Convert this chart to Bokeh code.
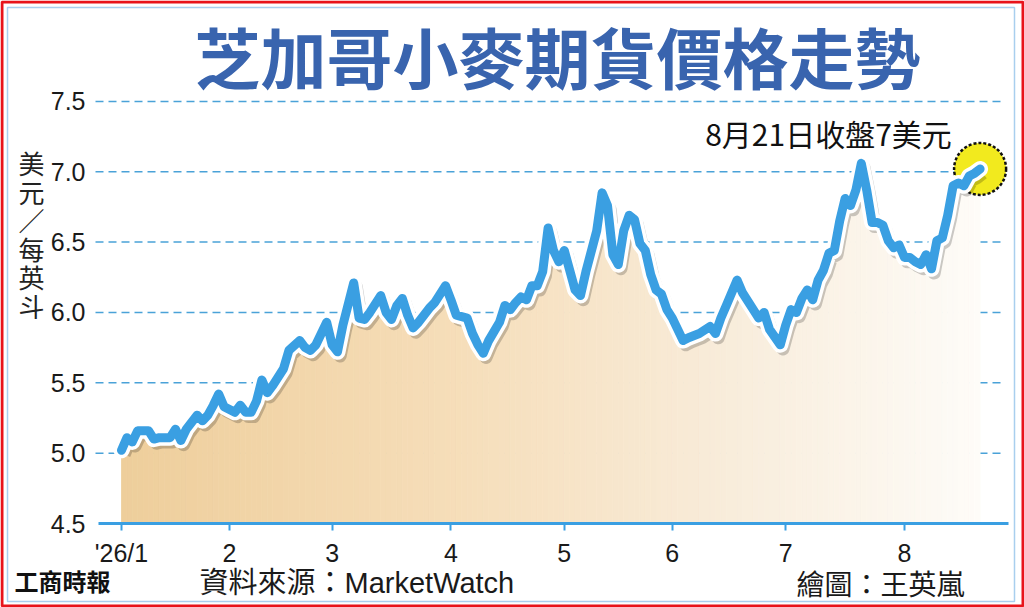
import numpy as np
from bokeh.plotting import figure
from bokeh.models import Range1d, FixedTicker, Label, NumeralTickFormatter
from bokeh.embed import file_html
from bokeh.resources import INLINE

# ---------------- data ----------------
title_text = "芝加哥小麥期貨價格走勢"
unit_chars = list("美元／每英斗")
annotation_text = "8月21日收盤7美元"
source_text = "資料來源：MarketWatch"
credit_text = "繪圖：王英嵐"
brand_text = "工商時報"

# trading-day number since the first session of 2026
trade_day = [0, 1, 2, 3, 4, 5, 6, 7, 8, 9, 10, 11, 12, 14, 15, 16, 17, 18, 19, 20,
             21, 22, 23, 24, 25, 26, 27, 28, 30, 31, 33, 34, 35, 36, 38, 39, 40, 41, 43, 44,
             45, 46, 48, 49, 50, 51, 52, 53, 54, 55, 56, 57, 58, 60, 61, 62, 63, 64, 65, 66,
             67, 68, 70, 71, 72, 73, 74, 75, 76, 77, 78, 79, 80, 81, 82, 83, 84, 85, 86, 88,
             89, 90, 91, 92, 93, 94, 95, 96, 97, 98, 99, 100, 101, 102, 103, 104, 105, 107, 109, 110,
             111, 112, 114, 115, 117, 118, 119, 120, 122, 123, 124, 125, 126, 127, 128, 129, 130, 131, 132, 133,
             134, 135, 136, 137, 138, 139, 140, 141, 142, 143, 144, 145, 146, 147, 148, 149, 150, 151, 152, 153,
             154, 155, 156, 157, 158, 159]
price = [5.02, 5.11, 5.08, 5.16, 5.16, 5.16, 5.10, 5.11, 5.11, 5.11, 5.17, 5.09, 5.17, 5.27, 5.23, 5.27, 5.34, 5.42, 5.33, 5.31,
         5.29, 5.34, 5.29, 5.29, 5.37, 5.52, 5.43, 5.48, 5.60, 5.73, 5.80, 5.75, 5.73, 5.77, 5.93, 5.77, 5.72, 5.91, 6.21, 5.96,
         5.95, 6.00, 6.12, 6.00, 5.95, 6.05, 6.10, 5.98, 5.89, 5.93, 5.98, 6.03, 6.07, 6.19, 6.09, 5.98, 5.97, 5.96, 5.85, 5.77,
         5.71, 5.80, 5.93, 6.05, 6.02, 6.07, 6.11, 6.09, 6.19, 6.19, 6.29, 6.60, 6.44, 6.36, 6.44, 6.30, 6.16, 6.12, 6.29, 6.58,
         6.85, 6.76, 6.41, 6.34, 6.58, 6.69, 6.66, 6.49, 6.44, 6.27, 6.16, 6.13, 6.02, 5.96, 5.88, 5.80, 5.82, 5.85, 5.90, 5.85,
         5.96, 6.05, 6.23, 6.14, 6.02, 5.96, 6.00, 5.88, 5.77, 5.91, 6.02, 6.00, 6.10, 6.16, 6.09, 6.23, 6.30, 6.42, 6.44, 6.65,
         6.81, 6.76, 6.87, 7.06, 6.87, 6.64, 6.64, 6.62, 6.51, 6.46, 6.48, 6.39, 6.39, 6.36, 6.34, 6.41, 6.31, 6.51, 6.53, 6.69,
         6.90, 6.92, 6.90, 6.97, 6.99, 7.02]

month_ticks = [0, 20, 39, 61, 82, 102, 123, 145]
month_labels = ["'26/1", "2", "3", "4", "5", "6", "7", "8"]
y_ticks = [4.5, 5.0, 5.5, 6.0, 6.5, 7.0, 7.5]
grid_ticks = [5.0, 5.5, 6.0, 6.5, 7.0, 7.5]

# ---------------- layout (pixel helpers) ----------------
W, H = 1024, 607
PX_DAY = 5.4
PX_UNIT = 140.7
X0_PX = 121.0   # pixel of trading day 0
Y0_PX = 523.0   # pixel of 4.5

def dx(X):
    return (X - X0_PX) / PX_DAY

def dy(Y):
    return 4.5 + (Y0_PX - Y) / PX_UNIT

p = figure(width=W, height=H, output_backend="svg", toolbar_location=None, title=None,
           x_range=Range1d(dx(0), dx(W)), y_range=Range1d(dy(H), dy(0)),
           min_border=0, min_border_left=0, min_border_right=0,
           min_border_top=0, min_border_bottom=0,
           background_fill_color="white", border_fill_color="white")
p.outline_line_color = None
p.xgrid.visible = False
p.ygrid.visible = False

# page frame: red outer border and light-blue inner line
p.quad(left=dx(1.5), right=dx(W - 1.5), bottom=dy(H - 1.5), top=dy(1.5),
       fill_color=None, line_color="#e8141b", line_width=3)
p.quad(left=dx(7), right=dx(W - 10), bottom=dy(H - 6), top=dy(7),
       fill_color=None, line_color="#a9cfee", line_width=1.5)

# dashed grid lines
p.segment(x0=[dx(95)] * len(grid_ticks), y0=grid_ticks, x1=[dx(1005)] * len(grid_ticks), y1=grid_ticks,
          line_color="#4aa2d8", line_width=1.5, line_dash="8 5")

# axes (placed inside the canvas)
p.yaxis.fixed_location = dx(98)
p.yaxis.ticker = FixedTicker(ticks=y_ticks)
p.yaxis.formatter = NumeralTickFormatter(format="0.0")
p.yaxis.axis_line_color = None
p.yaxis.major_tick_line_color = None
p.yaxis.minor_tick_line_color = None
p.yaxis.major_label_standoff = 7
p.yaxis.major_label_text_font = "Liberation Sans"
p.yaxis.major_label_text_font_size = "25px"
p.yaxis.major_label_text_color = "#1a1a1a"

p.xaxis.fixed_location = 4.5
p.xaxis.bounds = (dx(98), dx(1008))
p.xaxis.ticker = FixedTicker(ticks=month_ticks)
p.xaxis.major_label_overrides = {t: lab for t, lab in zip(month_ticks, month_labels)}
p.xaxis.axis_line_color = "#3a9fe2"
p.xaxis.axis_line_width = 3
p.xaxis.major_tick_line_color = "#3a9fe2"
p.xaxis.major_tick_line_width = 2
p.xaxis.major_tick_out = 7
p.xaxis.major_tick_in = 0
p.xaxis.minor_tick_line_color = None
p.xaxis.major_label_standoff = 8
p.xaxis.major_label_text_font = "Liberation Sans"
p.xaxis.major_label_text_font_size = "25px"
p.xaxis.major_label_text_color = "#1a1a1a"

# gradient area under the line
xd = np.array(trade_day, dtype=float)
yd = np.array(price, dtype=float)
stops = [0.0, 0.4, 0.7, 1.0]
stop_cols = np.array([[238, 206, 155], [246, 222, 186], [248, 236, 218], [254, 252, 248]], dtype=float)
xs, ys, cols = [], [], []
span = xd[-1] - xd[0]
for i in range(len(xd) - 1):
    xs.append([xd[i], xd[i + 1], xd[i + 1], xd[i]])
    ys.append([4.5, 4.5, yd[i + 1], yd[i]])
    f = ((xd[i] + xd[i + 1]) / 2 - xd[0]) / span
    c = [int(round(np.interp(f, stops, stop_cols[:, k]))) for k in range(3)]
    cols.append("#%02x%02x%02x" % tuple(c))
p.patches(xs, ys, fill_color=cols, line_color=cols, line_width=0.8)

# highlight circle at the last close
p.scatter([xd[-1]], [yd[-1]], size=52, fill_color="#f2ea1e", line_color="#111111",
          line_width=2.5, line_dash="3 2")

# line with shadow and white outline
p.line(xd + 0.5, yd - 0.03, line_width=13, line_color="black", line_alpha=0.2, line_join="round")
p.line(xd, yd, line_width=16, line_color="white", line_join="round", line_cap="round")
p.line(xd, yd, line_width=9, line_color="#3a9fe2", line_join="round", line_cap="round")

# texts
cjk = "'Noto Sans CJK TC', 'Noto Sans CJK SC', sans-serif"
mix = "'Liberation Sans', 'Noto Sans CJK TC', sans-serif"

p.add_layout(Label(x=dx(557), y=dy(54), text=title_text, text_font=cjk, text_font_size="66px",
                   text_font_style="bold", text_color="#3964ae", text_align="center",
                   text_baseline="middle"))

p.add_layout(Label(x=dx(828), y=dy(132), text=annotation_text, text_font=cjk, text_font_size="30px",
                   text_color="#111111", text_align="center", text_baseline="middle"))

for k, ch in enumerate(unit_chars):
    p.add_layout(Label(x=dx(31), y=dy(162 + k * 28.6), text=ch, text_font=cjk, text_font_size="26px",
                       text_color="#222222", text_align="center", text_baseline="middle"))

p.add_layout(Label(x=dx(14), y=dy(580), text=brand_text, text_font=cjk, text_font_size="24px",
                   text_font_style="bold", text_color="#111111", text_align="left",
                   text_baseline="middle"))
p.add_layout(Label(x=dx(199), y=dy(582), text=source_text, text_font=mix, text_font_size="29px",
                   text_color="#1a1a1a", text_align="left", text_baseline="middle"))
p.add_layout(Label(x=dx(796), y=dy(582), text=credit_text, text_font=cjk, text_font_size="28px",
                   text_color="#1a1a1a", text_align="left", text_baseline="middle"))

open("out.html", "w").write(file_html(p, INLINE))
